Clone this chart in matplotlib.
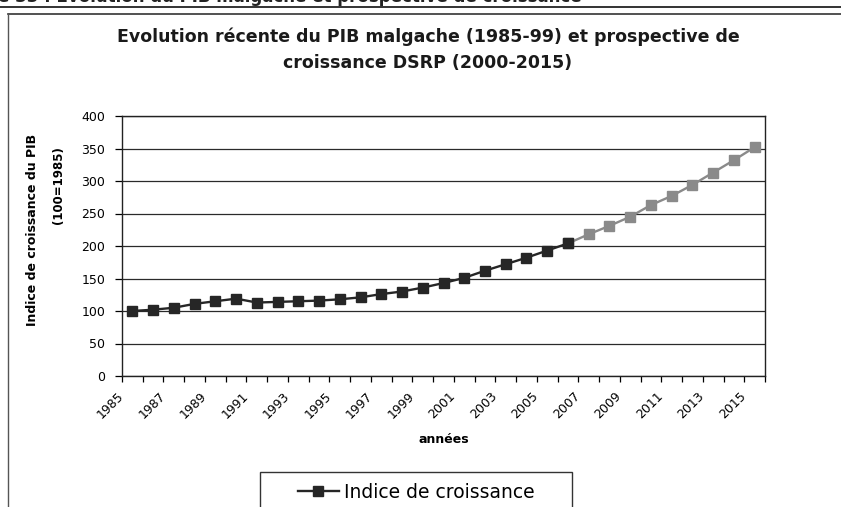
import matplotlib
matplotlib.use("Agg")
import matplotlib.pyplot as plt
from matplotlib.lines import Line2D
from matplotlib.patches import Rectangle
from matplotlib.transforms import ScaledTranslation

plt.rcParams['font.family'] = ['DejaVu Sans']

# indice du PIB (100 = 1985), observé puis projeté
annees = list(range(1985, 2016))
indice = [100, 102, 105, 111, 115, 119, 113, 114, 115, 116, 118, 121, 126, 130, 136,
          143, 151, 162, 172, 182, 193, 204,
          218, 231, 245, 263, 277, 294, 313, 332, 352]
annee_bascule = 2006
etiquettes_x = [str(a) for a in range(1985, 2016, 2)]
graduations_y = [0, 50, 100, 150, 200, 250, 300, 350, 400]

titre = "Evolution récente du PIB malgache (1985-99) et prospective de\ncroissance DSRP (2000-2015)"
legende = "Indice de croissance"

W, H = 841, 507
fig = plt.figure(figsize=(W / 100, H / 100), dpi=100)

# cadre de la page : légende de figure tronquée, filets, bordure du graphique
fig.text(-2 / W, 1 - 2 / H, "e 33 : Evolution du PIB malgache et prospective de croissance",
         fontsize=12, fontweight='bold', color='#222', va='baseline', ha='left')
fig.add_artist(Line2D([0, 1], [1 - 7 / H, 1 - 7 / H], color='#333', lw=1.4))
fig.add_artist(Line2D([8 / W, 1], [1 - 14 / H, 1 - 14 / H], color='#333', lw=1.2))
fig.add_artist(Line2D([8 / W, 8 / W], [0, 1 - 14 / H], color='#555', lw=1.0))

ax = fig.add_axes([122 / W, 1 - 376 / H, (765 - 122) / W, (376 - 116) / H])

i = annees.index(annee_bascule)
ax.plot(annees[i:], indice[i:], color='#8a8a8a', lw=1.7, marker='s', ms=7,
        mec='#8a8a8a', mfc='#8a8a8a', zorder=3)
ax.plot(annees[:i + 1], indice[:i + 1], color='#262626', lw=1.7, marker='s', ms=7,
        mec='#262626', mfc='#262626', zorder=4, label=legende)

ax.set_xlim(annees[0] - 0.5, annees[-1] + 0.5)
ax.set_ylim(0, 400)
ax.set_yticks(graduations_y)
ax.yaxis.grid(True, color='#2a2a2a', lw=0.9)
ax.set_axisbelow(True)
ax.tick_params(axis='y', direction='out', length=5, width=0.9, labelsize=9, pad=7)

ax.set_xticks(range(1985, 2016, 2))
ax.set_xticklabels(etiquettes_x, rotation=45, ha='right', va='top',
                   rotation_mode='anchor', fontsize=9)
ax.set_xticks([a - 0.5 for a in annees] + [annees[-1] + 0.5], minor=True)
ax.tick_params(axis='x', which='major', length=0, pad=10)
ax.tick_params(axis='x', which='minor', direction='out', length=4, width=0.9)
decalage = ScaledTranslation(-11 / 72, 0, fig.dpi_scale_trans)
for lbl in ax.get_xticklabels():
    lbl.set_transform(lbl.get_transform() + decalage)

for s in ax.spines.values():
    s.set_color('#222')
    s.set_linewidth(1.0)

# titre de l'axe vertical sur deux lignes
fig.text(33 / W, 1 - 230 / H, "Indice de croissance du PIB", rotation=90,
         ha='center', va='center', fontsize=9, fontweight='bold')
fig.text(59 / W, 1 - 185 / H, "(100=1985)", rotation=90,
         ha='center', va='center', fontsize=8.5, fontweight='bold')
ax.set_xlabel("années", fontsize=9, fontweight='bold', labelpad=8)

fig.text(428 / W, 1 - 50 / H, titre, ha='center', va='center', fontsize=12.5,
         fontweight='bold', linespacing=1.6, color='#1a1a1a')

# légende encadrée, coupée en bas
bas = -20 / H
haut = 1 - 472 / H
fig.add_artist(Rectangle((260 / W, bas), (572 - 260) / W, haut - bas,
                         transform=fig.transFigure, fill=False, ec='#333', lw=1.0))
fig.legend(loc='center', bbox_to_anchor=(416 / W, 1 - 492 / H), frameon=False,
           fontsize=13.5, handlelength=2.2, handletextpad=0.25, borderpad=0)

fig.savefig("out.png", dpi=100, facecolor='white')
